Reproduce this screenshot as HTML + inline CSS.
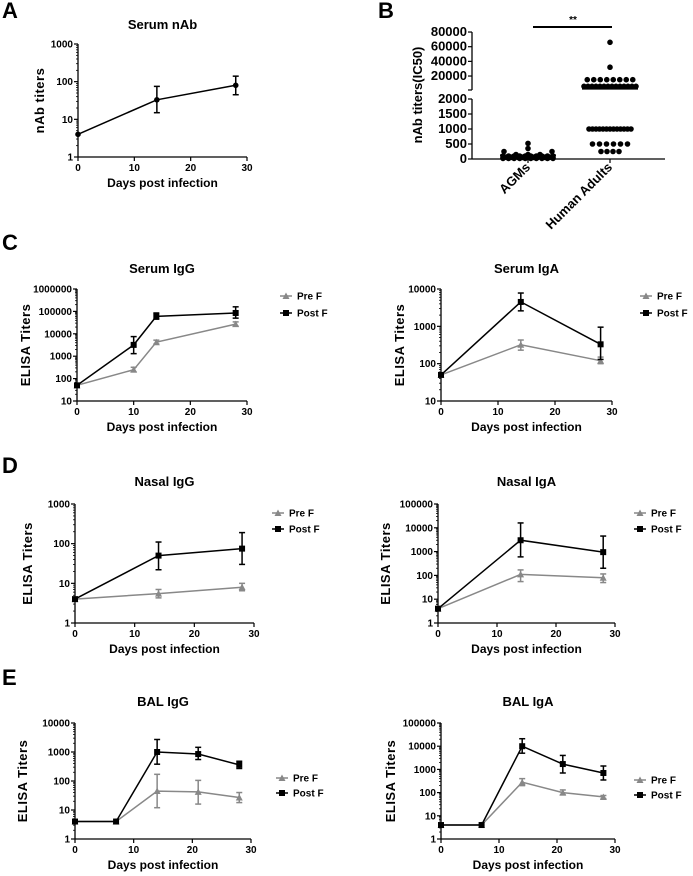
<!DOCTYPE html>
<html><head><meta charset="utf-8">
<style>
html,body{margin:0;padding:0;background:#fff;}
svg{display:block;font-family:"Liberation Sans",Arial,sans-serif;}
.tick{font-size:10px;font-weight:bold;fill:#000;}
.ttl{font-size:13px;font-weight:bold;fill:#000;}
.axl{font-size:12px;font-weight:bold;fill:#000;}
.yl{font-size:13px;font-weight:bold;fill:#000;letter-spacing:0.5px;}
.leg{font-size:10px;font-weight:bold;fill:#000;}
.let{font-size:22px;font-weight:bold;fill:#000;}
</style></head>
<body>
<svg id="fig" width="693" height="876" viewBox="0 0 693 876"></svg>
<script>
// ---- Panel A ----
const aX=[0,14,28];
const aVal=[4,33,80];
const aLo=[4,15,45];
const aHi=[4,75,140];
// ---- Panel B ----
const bCategories=["AGMs","Human Adults"];
const bAGM=[20,20,20,20,20,20,20,20,20,20,50,50,50,50,50,50,50,50,50,50,50,50,50,50,100,100,100,100,100,100,100,100,100,100,150,150,150,250,250,350,520];
const bHuman=[250,250,250,250,500,500,500,500,500,500,1000,1000,1000,1000,1000,1000,1000,1000,1000,1000,1000,1000,1000,6000,6000,6000,6000,6000,6000,6000,6000,6000,6000,6000,6000,6000,6000,15000,15000,15000,15000,15000,15000,15000,15000,32000,66000];
const bMeans=[130,2500];
const bLowTicks=[0,500,1000,1500,2000];
const bHighTicks=[20000,40000,60000,80000];
// ---- Panel C ----
const cgX=[0,10,14,28];
const cgPre=[50,250,4200,27000], cgPreLo=[45,200,3500,22000], cgPreHi=[55,320,5200,34000];
const cgPost=[50,3200,60000,85000], cgPostLo=[45,1300,45000,50000], cgPostHi=[55,7500,85000,160000];
const caX=[0,14,28];
const caPre=[50,320,120], caPreLo=[45,230,100], caPreHi=[55,430,150];
const caPost=[50,4500,330], caPostLo=[45,2600,130], caPostHi=[55,7800,950];
// ---- Panel D ----
const dgX=[0,14,28];
const dgPre=[4,5.5,8], dgPreLo=[3.7,4.3,6.5], dgPreHi=[4.3,7,10];
const dgPost=[4,50,75], dgPostLo=[3.7,22,30], dgPostHi=[4.3,110,190];
const daX=[0,14,28];
const daPre=[4,110,80], daPreLo=[3.5,55,50], daPreHi=[4.5,170,115];
const daPost=[4,3000,950], daPostLo=[3.5,600,200], daPostHi=[4.5,16000,4500];
// ---- Panel E ----
const egX=[0,7,14,21,28];
const egPre=[4,4,45,42,27], egPreLo=[4,4,12,16,18], egPreHi=[4,4,170,105,40];
const egPost=[4,4,1000,850,360], egPostLo=[4,4,380,550,270], egPostHi=[4,4,2700,1450,480];
const eaX=[0,7,14,21,28];
const eaPre=[4,4,280,100,65], eaPreLo=[4,4,200,80,55], eaPreHi=[4,4,400,130,75];
const eaPost=[4,4,10000,1700,700], eaPostLo=[4,4,5000,700,350], eaPostHi=[4,4,21000,4000,1400];
const xTicks=[0,10,20,30];

const NS="http://www.w3.org/2000/svg";
const svg=document.getElementById('fig');
function mk(tag,attrs,parent,txt){const e=document.createElementNS(NS,tag);for(const k in attrs)e.setAttribute(k,attrs[k]);if(txt!==undefined)e.textContent=txt;(parent||svg).appendChild(e);return e;}

function txt(x,y,s,cls,name,anchor,rot){
  const t=mk('text',{x:x,y:y,class:cls,'text-anchor':anchor||'middle'},svg,s);
  if(rot)t.setAttribute('transform','rotate('+rot+' '+x+' '+y+')');
  
  
  return t;
}

function marker(g,x,y,kind,color){
  let m;
  if(kind==='sq'){m=mk('rect',{x:x-3,y:y-3,width:6,height:6,fill:color},g);}
  else if(kind==='tri'){m=mk('polygon',{points:(x)+','+(y-3.5)+' '+(x+3.5)+','+(y+3)+' '+(x-3.5)+','+(y+3),fill:color},g);}
  else {m=mk('circle',{cx:x,cy:y,r:2.8,fill:color},g);}
  
  
}

function chart(c){
  const g=mk('g',{});
  
  
  const xs=v=>c.ax+(v-0)/30*(c.xr-c.ax);
  const ys=v=>c.yb-(Math.log10(v)-c.e0)/(c.e1-c.e0)*(c.yb-c.yt);
  const ya=mk('line',{x1:c.ax,y1:c.yt,x2:c.ax,y2:c.yb,stroke:'#000','stroke-width':1.3},g);
  
  const xa=mk('line',{x1:c.ax,y1:c.yb,x2:c.xr,y2:c.yb,stroke:'#000','stroke-width':1.3},g);
  
  for(let e=c.e0;e<=c.e1;e++){
    const y=ys(Math.pow(10,e));
    mk('line',{x1:c.ax-4,y1:y,x2:c.ax,y2:y,stroke:'#000','stroke-width':1.2},g);
    txt(c.ax-5,y+3.5,String(Math.pow(10,e)),'tick','y-tick-label','end');
    if(e<c.e1){for(let k=2;k<10;k++){const yy=ys(k*Math.pow(10,e));mk('line',{x1:c.ax-2,y1:yy,x2:c.ax,y2:yy,stroke:'#000','stroke-width':0.8},g);}}
  }
  xTicks.forEach(t=>{const x=xs(t);mk('line',{x1:x,y1:c.yb,x2:x,y2:c.yb+4,stroke:'#000','stroke-width':1.2},g);txt(x,c.yb+14,String(t),'tick','x-tick-label');});
  txt((c.ax+c.xr)/2,c.titleY,c.title,'ttl','chart-title');
  txt((c.ax+c.xr)/2,c.yb+30,'Days post infection','axl','x-axis-title');
  txt(c.ylx,(c.yt+c.yb)/2,c.ylabel,'yl','y-axis-title','middle',-90);
  c.series.forEach(s=>{
    const sg=mk('g',{},g);
    
    
    let d='';
    s.x.forEach((xv,i)=>{d+=(i?'L':'M')+xs(xv).toFixed(1)+','+ys(s.v[i]).toFixed(1);});
    mk('path',{d:d,fill:'none',stroke:s.color,'stroke-width':1.5},sg);
    s.x.forEach((xv,i)=>{
      const x=xs(xv),y1=ys(s.hi[i]),y2=ys(s.lo[i]);
      if(Math.abs(y2-y1)>1){
        mk('line',{x1:x,y1:y1,x2:x,y2:y2,stroke:s.color,'stroke-width':1.5},sg);
        mk('line',{x1:x-3,y1:y1,x2:x+3,y2:y1,stroke:s.color,'stroke-width':1.5},sg);
        mk('line',{x1:x-3,y1:y2,x2:x+3,y2:y2,stroke:s.color,'stroke-width':1.5},sg);
      }
      marker(sg,x,ys(s.v[i]),s.kind,s.color);
    });
  });
  if(c.leg){
    c.series.forEach((s,i)=>{
      const y=c.leg.y[i];
      const lg=mk('g',{},g);
      
      
      mk('line',{x1:c.leg.x-6,y1:y,x2:c.leg.x+6,y2:y,stroke:s.color,'stroke-width':1.5},lg);
      marker(lg,c.leg.x,y,s.kind,s.color);
      const t=mk('text',{x:c.leg.x+11,y:y+3.5,class:'leg'},lg,s.label);
      
      
    });
  }
}
const G='#888',K='#000';
function two(x,pre,preLo,preHi,post,postLo,postHi){
  return [{label:'Pre F',x:x,v:pre,lo:preLo,hi:preHi,color:G,kind:'tri'},
          {label:'Post F',x:x,v:post,lo:postLo,hi:postHi,color:K,kind:'sq'}];
}
txt(2,18,'A','let','panel-letter-a','start');
txt(378,18,'B','let','panel-letter-b','start');
txt(2,250,'C','let','panel-letter-c','start');
txt(2,473,'D','let','panel-letter-d','start');
txt(2,685,'E','let','panel-letter-e','start');

chart({name:'serum-nab-chart',ax:78,xr:247,yt:44,yb:157,e0:0,e1:3,title:'Serum nAb',titleY:29,ylabel:'nAb titers',ylx:44,
  series:[{label:'nAb',x:aX,v:aVal,lo:aLo,hi:aHi,color:K,kind:'dot'}]});
chart({name:'serum-igg-chart',ax:77,xr:247,yt:289,yb:401,e0:1,e1:6,title:'Serum IgG',titleY:273,ylabel:'ELISA Titers',ylx:30,
  series:two(cgX,cgPre,cgPreLo,cgPreHi,cgPost,cgPostLo,cgPostHi),leg:{x:286,y:[296,313]}});
chart({name:'serum-iga-chart',ax:441,xr:612,yt:289,yb:401,e0:1,e1:4,title:'Serum IgA',titleY:273,ylabel:'ELISA Titers',ylx:404,
  series:two(caX,caPre,caPreLo,caPreHi,caPost,caPostLo,caPostHi),leg:{x:646,y:[296,313]}});
chart({name:'nasal-igg-chart',ax:75,xr:254,yt:504,yb:623,e0:0,e1:3,title:'Nasal IgG',titleY:486,ylabel:'ELISA Titers',ylx:32,
  series:two(dgX,dgPre,dgPreLo,dgPreHi,dgPost,dgPostLo,dgPostHi),leg:{x:278,y:[513,529]}});
chart({name:'nasal-iga-chart',ax:438,xr:615,yt:504,yb:623,e0:0,e1:5,title:'Nasal IgA',titleY:486,ylabel:'ELISA Titers',ylx:390,
  series:two(daX,daPre,daPreLo,daPreHi,daPost,daPostLo,daPostHi),leg:{x:640,y:[513,529]}});
chart({name:'bal-igg-chart',ax:75,xr:251,yt:723,yb:839,e0:0,e1:4,title:'BAL IgG',titleY:706,ylabel:'ELISA Titers',ylx:27,
  series:two(egX,egPre,egPreLo,egPreHi,egPost,egPostLo,egPostHi),leg:{x:282,y:[778,793]}});
chart({name:'bal-iga-chart',ax:441,xr:615,yt:723,yb:839,e0:0,e1:5,title:'BAL IgA',titleY:706,ylabel:'ELISA Titers',ylx:395,
  series:two(eaX,eaPre,eaPreLo,eaPreHi,eaPost,eaPostLo,eaPostHi),leg:{x:640,y:[780,795]}});

(function(){
  const g=mk('g',{});
  
  
  const ax=472,xr=665,catX=[528,610];
  const yLow=v=>159-v/2000*60;
  const yHigh=v=>90.7-v*44/60000;
  const yv=v=>v<=2000?yLow(v):yHigh(v);
  const a1=mk('line',{x1:ax,y1:99,x2:ax,y2:159,stroke:'#000','stroke-width':1.3},g);
  
  const a2=mk('line',{x1:ax,y1:yHigh(80000),x2:ax,y2:90,stroke:'#000','stroke-width':1.3},g);
  
  mk('line',{x1:ax-4,y1:90,x2:ax,y2:90,stroke:'#000','stroke-width':1.2},g);
  const xa=mk('line',{x1:ax,y1:159,x2:xr,y2:159,stroke:'#000','stroke-width':1.3},g);
  
  bLowTicks.forEach(t=>{const y=yLow(t);mk('line',{x1:ax-4,y1:y,x2:ax,y2:y,stroke:'#000','stroke-width':1.2},g);txt(ax-5,y+4,String(t),'ttl','y-tick-label','end');});
  bHighTicks.forEach(t=>{const y=yHigh(t);mk('line',{x1:ax-4,y1:y,x2:ax,y2:y,stroke:'#000','stroke-width':1.2},g);txt(ax-5,y+4,String(t),'ttl','y-tick-label','end');});
  txt(422,95,'nAb titers(IC50)','ttl','y-axis-title','middle',-90);
  catX.forEach((x,i)=>{
    mk('line',{x1:x,y1:159,x2:x,y2:163,stroke:'#000','stroke-width':1.2},g);
    txt(x+3,168,bCategories[i],'ttl','x-category-label','end',-45);
  });
  [bAGM,bHuman].forEach((arr,ci)=>{
    const groups={};
    arr.forEach(v=>{groups[v]=(groups[v]||0)+1;});
    Object.keys(groups).forEach(k=>{
      const n=groups[k],v=+k;
      let sp;
      if(ci===0){sp=(v===250)?48:(v===150?12:(n>1?50/(n-1):0));}
      else sp=(v===500?7:(v===6000?4:(v===1000?3.5:(v===15000?6.5:6))));
      for(let j=0;j<n;j++){
        const x=catX[ci]+(j-(n-1)/2)*sp;
        marker(g,x,yv(v),'dot','#000');
      }
    });
    const y=yv(bMeans[ci]);
    const ml=mk('line',{x1:catX[ci]-28,y1:y,x2:catX[ci]+28,y2:y,stroke:'#000','stroke-width':1.5},g);
    
    
  });
  const sb=mk('line',{x1:533,y1:27,x2:612,y2:27,stroke:'#000','stroke-width':2},g);
  
  
  txt(573,23,'**','leg','significance-label');
})();
</script>
</body></html>
